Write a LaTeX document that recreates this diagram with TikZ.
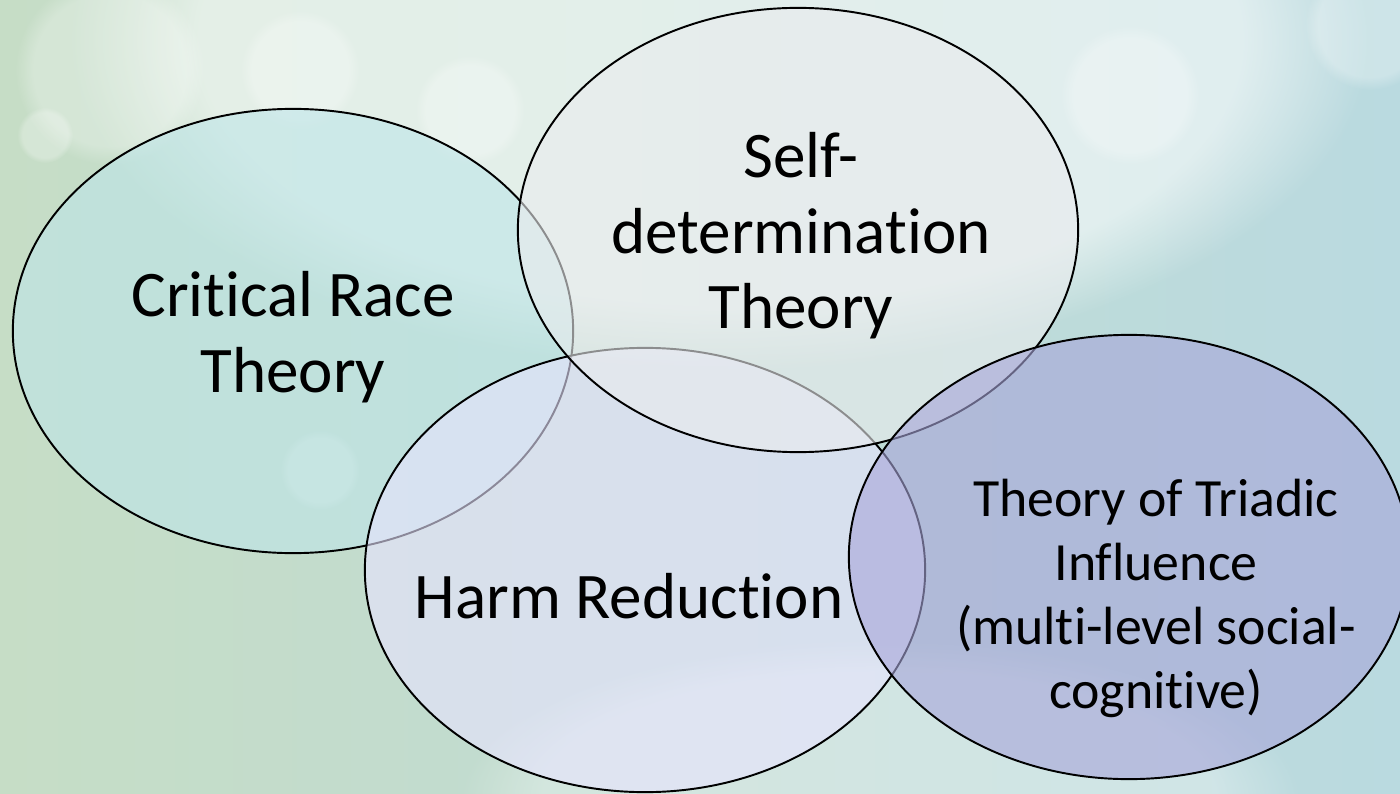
\documentclass[tikz,border=0pt]{standalone}
\usepackage{fontspec}
\setmainfont{Carlito}[Ligatures=NoCommon]
\usetikzlibrary{shapes.geometric, positioning, fadings}

\definecolor{bgleft}{RGB}{198,221,198}
\definecolor{bgright}{RGB}{186,218,224}
\definecolor{crtfill}{RGB}{190,229,232}
\definecolor{sdtfill}{RGB}{234,236,238}
\definecolor{hrfill}{RGB}{232,228,255}
\definecolor{ttifill}{RGB}{167,165,217}

\begin{document}
\begin{tikzpicture}[x=0.01cm, y=-0.01cm,
    theory/.style={ellipse, draw=black, line width=0.55pt, inner sep=0pt,
      minimum width=5.6cm, minimum height=4.44cm, fill opacity=0.6},
    bigtext/.style={align=center, font=\fontsize{18.5}{21.5}\selectfont},
    smalltext/.style={align=center, font=\fontsize{15.3}{18.2}\selectfont},
    bokeh/.style={white, fill opacity=0.28, path fading=circle with fuzzy edge 20 percent}]
  \useasboundingbox (0,0) rectangle (1400,794);

  % background
  \shade[left color=bgleft, right color=bgright] (0,0) rectangle (1400,794);
  \fill[white, fill opacity=0.55, path fading=circle with fuzzy edge 20 percent] (720,40) ellipse (650 and 330);
  \fill[white, fill opacity=0.3, path fading=circle with fuzzy edge 20 percent] (880,800) ellipse (420 and 160);
  \fill[bokeh] (110,70) circle (95);
  \fill[bokeh] (300,70) circle (60);
  \fill[bokeh] (45,135) circle (28);
  \fill[bokeh] (470,110) circle (55);
  \fill[bokeh] (1130,95) circle (70);
  \fill[bokeh] (1370,25) circle (65);
  \fill[bokeh] (320,470) circle (40);

  % the four theories
  \node[theory, fill=crtfill] (crt) at (293,331) {};
  \node[theory, fill=hrfill] (hr) at (645,570) {};
  \node[theory, fill=sdtfill] (sdt) at (798,230) {};
  \node[theory, fill=ttifill] (tti) at (1129,557) {};

  % names
  \node[bigtext] (crt-name) at (293,337) {Critical Race\\Theory};
  \node[bigtext] (sdt-name) at (801,236) {Self-\\determination\\Theory};
  \node[bigtext] (hr-name) at (629,596) {Harm Reduction};
  \node[smalltext] (tti-name) at (1156,598) {Theory of Triadic\\Influence\\(multi-level social-\\cognitive)};
\end{tikzpicture}
\end{document}
